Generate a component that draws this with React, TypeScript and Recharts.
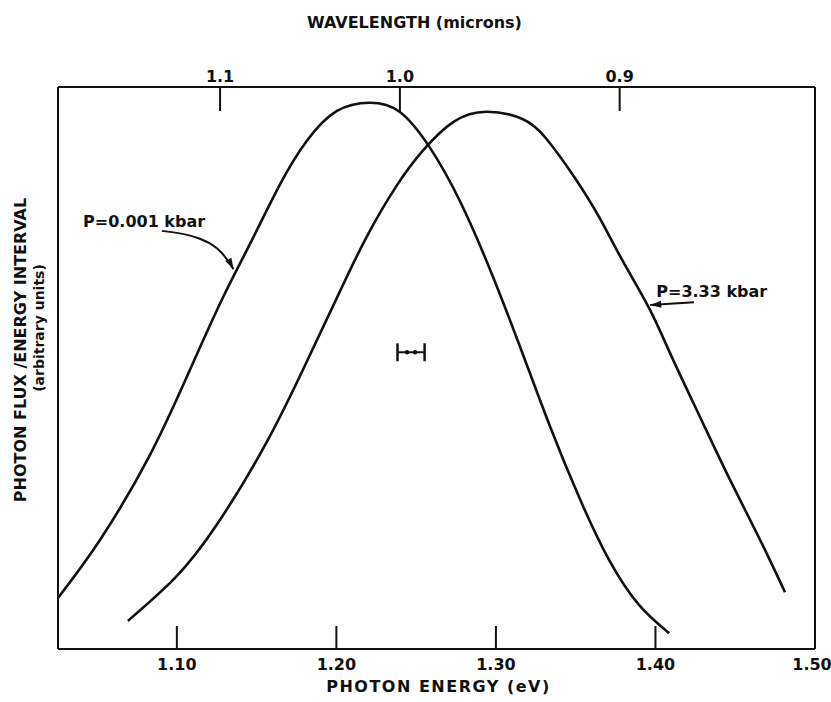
import React from 'react';
import { LineChart, Line, XAxis, YAxis, ReferenceLine, ReferenceDot } from 'recharts';

// ---- axes ----
const energyDomain = [1.0255, 1.5];
const fluxDomain = [0, 100];
const energyTicks = [1.1, 1.2, 1.3, 1.4, 1.5];
const wavelengthTicks = [1.1, 1.0, 0.9]; // microns
const HC = 1.2398; // eV * micron

// ---- P = 0.001 kbar ----
const lowPressureEnergy = [1.0255, 1.0518, 1.0831, 1.1081, 1.1288, 1.1457, 1.1645, 1.1814, 1.2001, 1.2208, 1.2396, 1.2584, 1.2771, 1.2959, 1.3147, 1.3335, 1.3523, 1.371, 1.3898, 1.4086];
const lowPressureFlux = [9.1, 19.4, 34.5, 49.6, 62.5, 72.0, 82.6, 90.4, 95.7, 97.2, 95.6, 89.3, 79.9, 67.8, 54.1, 39.9, 26.9, 15.8, 7.8, 2.8];

// ---- P = 3.33 kbar ----
const highPressureEnergy = [1.0693, 1.0987, 1.125, 1.1563, 1.1814, 1.202, 1.2189, 1.2377, 1.2546, 1.2734, 1.2941, 1.3166, 1.3316, 1.3491, 1.3648, 1.3792, 1.3961, 1.4105, 1.4274, 1.4462, 1.4649, 1.4812];
const highPressureFlux = [5.0, 12.6, 22.1, 36.8, 51.1, 63.5, 73.3, 82.4, 88.8, 93.8, 95.6, 94.3, 90.8, 84.0, 76.8, 69.2, 60.6, 51.8, 41.6, 30.4, 19.8, 10.1];

// ---- annotations (data units) ----
const lowLabel = { text: 'P=0.001 kbar', x: 1.0412, y: 76.0 };
const lowArrowEnergy = [1.0906, 1.1144, 1.1281, 1.1355];
const lowArrowFlux = [74.4, 73.0, 70.5, 67.6];
const highLabel = { text: 'P=3.33 kbar', x: 1.4005, y: 63.6 };
const highArrowEnergy = [1.4242, 1.3967];
const highArrowFlux = [61.7, 61.2];
const resolution = { center: 1.2468, halfWidth: 0.0085, y: 52.8, cap: 1.6, dot: 0.0025 };

const FONT = "'DejaVu Sans', Arial, sans-serif";
const INK = '#111';

const zip = (xs: number[], ys: number[]) => xs.map((x, i) => ({ x, y: ys[i] }));

const arrowHead = (angleDeg: number) => (props: any) => {
  const { cx, cy } = props;
  if (cx == null || cy == null) return <g />;
  const a = (angleDeg * Math.PI) / 180;
  const len = 11;
  const half = 3.5;
  const bx = cx - len * Math.cos(a);
  const by = cy - len * Math.sin(a);
  const px = -Math.sin(a) * half;
  const py = Math.cos(a) * half;
  return <polygon points={`${cx},${cy} ${bx + px},${by + py} ${bx - px},${by - py}`} fill={INK} />;
};

const textShape = (text: string, size: number) => (props: any) => {
  const { cx, cy } = props;
  if (cx == null || cy == null) return <g />;
  return (
    <text x={cx} y={cy} dominantBaseline="central" fontFamily={FONT} fontWeight="bold" fontSize={size} fill={INK}>
      {text}
    </text>
  );
};

const dotShape = (props: any) => {
  const { cx, cy } = props;
  if (cx == null || cy == null) return <g />;
  return <circle cx={cx} cy={cy} r={2.2} fill={INK} />;
};

const TopTitle = (props: any) => {
  const vb = props.viewBox || { x: 0, y: 0, width: 0, height: 0 };
  return (
    <text x={vb.x + vb.width / 2 - 22} y={22} textAnchor="middle" dominantBaseline="central" fontFamily={FONT} fontWeight="bold" fontSize={16} fill={INK}>
      WAVELENGTH (microns)
    </text>
  );
};

const BottomTitle = (props: any) => {
  const vb = props.viewBox || { x: 0, y: 0, width: 0, height: 0 };
  return (
    <text x={vb.x + vb.width / 2 + 2} y={vb.y + 37} textAnchor="middle" dominantBaseline="central" fontFamily={FONT} fontWeight="bold" fontSize={16} letterSpacing={1.5} fill={INK}>
      PHOTON  ENERGY (eV)
    </text>
  );
};

const LeftTitle = (props: any) => {
  const vb = props.viewBox || { x: 0, y: 0, width: 0, height: 0 };
  const cy1 = vb.y + vb.height / 2 - 18;
  const cy2 = vb.y + vb.height / 2 - 40;
  return (
    <g>
      <text x={20} y={cy1} transform={`rotate(-90 20 ${cy1})`} textAnchor="middle" dominantBaseline="central" fontFamily={FONT} fontWeight="bold" fontSize={16} fill={INK}>
        PHOTON FLUX /ENERGY INTERVAL
      </text>
      <text x={39} y={cy2} transform={`rotate(-90 39 ${cy2})`} textAnchor="middle" dominantBaseline="central" fontFamily={FONT} fontWeight="bold" fontSize={14} fill={INK}>
        (arbitrary units)
      </text>
    </g>
  );
};

const BottomTick = (props: any) => {
  const { x, y, payload } = props;
  const v = Number(payload && payload.value);
  const last = Math.abs(v - energyTicks[energyTicks.length - 1]) < 1e-9;
  return (
    <text x={last ? x - 3 : x} y={y} dy="0.71em" textAnchor="middle" fontFamily={FONT} fontWeight="bold" fontSize={16} fill={INK}>
      {v.toFixed(2)}
    </text>
  );
};

const tickStyle = { fill: INK, fontFamily: FONT, fontWeight: 'bold', fontSize: 16 } as any;
const frame = { stroke: INK, strokeWidth: 2 };

export default function App() {
  const lowData = zip(lowPressureEnergy, lowPressureFlux);
  const highData = zip(highPressureEnergy, highPressureFlux);
  const lowArrow = zip(lowArrowEnergy, lowArrowFlux);
  const highArrow = zip(highArrowEnergy, highArrowFlux);
  const wlTickEnergies = wavelengthTicks.map((l) => HC / l);
  const rx0 = resolution.center - resolution.halfWidth;
  const rx1 = resolution.center + resolution.halfWidth;

  return (
    <div style={{ position: 'absolute', left: 0, top: 0, width: 831, height: 702, background: '#fff', overflow: 'hidden' }}>
      <LineChart width={831} height={702} margin={{ top: 0, right: 0, bottom: 0, left: 0 }}>
        <XAxis
          xAxisId="bottom"
          dataKey="x"
          type="number"
          orientation="bottom"
          domain={energyDomain}
          allowDataOverflow
          ticks={energyTicks}
          interval={0}
          height={53}
          tickSize={-23}
          tickMargin={33}
          axisLine={frame}
          tickLine={frame}
          tick={<BottomTick />}
          label={{ content: BottomTitle }}
        />
        <XAxis
          xAxisId="top"
          dataKey="x"
          type="number"
          orientation="top"
          domain={energyDomain}
          allowDataOverflow
          ticks={wlTickEnergies}
          interval={0}
          tickFormatter={(v: number) => (HC / v).toFixed(1)}
          height={87}
          tickSize={-24}
          tickMargin={29}
          axisLine={frame}
          tickLine={frame}
          tick={tickStyle}
          label={{ content: TopTitle }}
        />
        <YAxis
          yAxisId="left"
          type="number"
          domain={fluxDomain}
          allowDataOverflow
          width={58}
          tick={false}
          tickLine={false}
          axisLine={frame}
          label={{ content: LeftTitle }}
        />
        <YAxis
          yAxisId="right"
          orientation="right"
          type="number"
          domain={fluxDomain}
          width={16}
          tick={false}
          tickLine={false}
          axisLine={frame}
        />

        <Line xAxisId="bottom" yAxisId="left" data={lowData} dataKey="y" type="natural" stroke={INK} strokeWidth={2.6} dot={false} isAnimationActive={false} />
        <Line xAxisId="bottom" yAxisId="left" data={highData} dataKey="y" type="natural" stroke={INK} strokeWidth={2.6} dot={false} isAnimationActive={false} />

        <Line xAxisId="bottom" yAxisId="left" data={lowArrow} dataKey="y" type="monotone" stroke={INK} strokeWidth={2} dot={false} isAnimationActive={false} />
        <Line xAxisId="bottom" yAxisId="left" data={highArrow} dataKey="y" type="linear" stroke={INK} strokeWidth={2} dot={false} isAnimationActive={false} />

        <ReferenceDot xAxisId="bottom" yAxisId="left" x={lowArrowEnergy[lowArrowEnergy.length - 1]} y={lowArrowFlux[lowArrowFlux.length - 1]} ifOverflow="visible" shape={arrowHead(62)} />
        <ReferenceDot xAxisId="bottom" yAxisId="left" x={highArrowEnergy[highArrowEnergy.length - 1]} y={highArrowFlux[highArrowFlux.length - 1]} ifOverflow="visible" shape={arrowHead(176)} />

        <ReferenceDot xAxisId="bottom" yAxisId="left" x={lowLabel.x} y={lowLabel.y} ifOverflow="visible" shape={textShape(lowLabel.text, 16)} />
        <ReferenceDot xAxisId="bottom" yAxisId="left" x={highLabel.x} y={highLabel.y} ifOverflow="visible" shape={textShape(highLabel.text, 16)} />

        <ReferenceLine xAxisId="bottom" yAxisId="left" segment={[{ x: rx0, y: resolution.y }, { x: rx1, y: resolution.y }]} stroke={INK} strokeWidth={2} ifOverflow="visible" />
        <ReferenceLine xAxisId="bottom" yAxisId="left" segment={[{ x: rx0, y: resolution.y - resolution.cap }, { x: rx0, y: resolution.y + resolution.cap }]} stroke={INK} strokeWidth={2.5} ifOverflow="visible" />
        <ReferenceLine xAxisId="bottom" yAxisId="left" segment={[{ x: rx1, y: resolution.y - resolution.cap }, { x: rx1, y: resolution.y + resolution.cap }]} stroke={INK} strokeWidth={2.5} ifOverflow="visible" />
        <ReferenceDot xAxisId="bottom" yAxisId="left" x={resolution.center - resolution.dot} y={resolution.y} ifOverflow="visible" shape={dotShape} />
        <ReferenceDot xAxisId="bottom" yAxisId="left" x={resolution.center + resolution.dot} y={resolution.y} ifOverflow="visible" shape={dotShape} />
      </LineChart>
    </div>
  );
}
